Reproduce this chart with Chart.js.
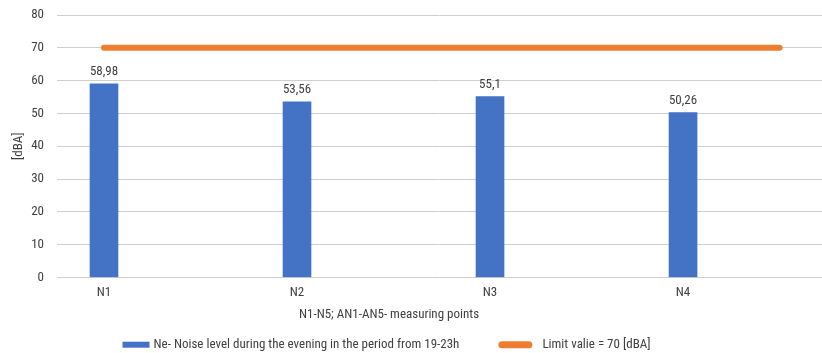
<!DOCTYPE html>
<html>
<head>
<meta charset="utf-8">
<script src="https://cdn.jsdelivr.net/npm/chart.js@4.4.1/dist/chart.umd.min.js"></script>
<style>
  html, body { margin: 0; padding: 0; background: #fff; }
</style>
</head>
<body>
<canvas id="noise-chart" width="822" height="353"></canvas>
<script>
"use strict";

// data ---------------------------------------
const CATEGORIES = ["N1", "N2", "N3", "N4"];
const NOISE_VALUES = [58.98, 53.56, 55.1, 50.26];
const LIMIT_X = [1, 4.5];
const LIMIT_VALUES = [70, 70];
const Y_TICKS = [0, 10, 20, 30, 40, 50, 60, 70, 80];

const NOISE_LABEL = "Ne- Noise level during the evening in the period from 19-23h";
const LIMIT_LABEL = "Limit valie = 70 [dBA]";
const X_TITLE = "N1-N5; AN1-AN5- measuring points";
const Y_TITLE = "[dBA]";

const FONT = "'Roboto Condensed', Carlito, sans-serif";
const FONT_SIZE = 13;
const TEXT_COLOR = "#404040";
const BLUE = "#4472c4";
const ORANGE = "#ed7d31";

Chart.defaults.font.family = FONT;
Chart.defaults.font.size = FONT_SIZE;
Chart.defaults.color = TEXT_COLOR;

// value labels, axis title and legend
const extrasPlugin = {
  id: "extras",
  afterDatasetsDraw(chart) {
    const ctx = chart.ctx;
    ctx.save();
    ctx.font = FONT_SIZE + "px " + FONT;
    ctx.fillStyle = TEXT_COLOR;
    ctx.textAlign = "center";
    ctx.textBaseline = "middle";

    chart.getDatasetMeta(0).data.forEach((bar, i) => {
      ctx.fillText(String(NOISE_VALUES[i]).replace(".", ","), bar.x, bar.y - 12);
    });

    ctx.fillText(X_TITLE, 389, 314.5);

    // legend
    const ds = chart.data.datasets;
    const w1 = ctx.measureText(ds[0].label).width;
    const w2 = ctx.measureText(ds[1].label).width;
    const total = 27 + 4 + w1 + 39 + 34 + 10 + w2;
    let x = 386.5 - total / 2;
    const y = 344.7;
    ctx.textAlign = "left";
    ctx.fillStyle = ds[0].backgroundColor;
    ctx.fillRect(x, y - 3, 27, 6);
    x += 31;
    ctx.fillStyle = TEXT_COLOR;
    ctx.fillText(ds[0].label, x, y);
    x += w1 + 39;
    ctx.strokeStyle = ds[1].borderColor;
    ctx.lineWidth = 7;
    ctx.lineCap = "round";
    ctx.beginPath();
    ctx.moveTo(x + 3.5, y);
    ctx.lineTo(x + 30.5, y);
    ctx.stroke();
    x += 44;
    ctx.fillText(ds[1].label, x, y);
    ctx.restore();
  },
};

const ctx = document.getElementById("noise-chart");

new Chart(ctx, {
  type: "bar",
  data: {
    datasets: [
      {
        type: "bar",
        label: NOISE_LABEL,
        data: NOISE_VALUES.map((v, i) => ({ x: i + 1, y: v })),
        backgroundColor: BLUE,
        barThickness: 28,
        order: 2,
      },
      {
        type: "line",
        label: LIMIT_LABEL,
        data: LIMIT_X.map((x, i) => ({ x: x, y: LIMIT_VALUES[i] })),
        borderColor: ORANGE,
        backgroundColor: ORANGE,
        borderWidth: 6,
        borderCapStyle: "round",
        pointRadius: 0,
        order: 1,
      },
    ],
  },
  options: {
    responsive: false,
    animation: false,
    layout: {
      padding: { top: 15, right: 0, bottom: 44, left: 0 },
    },
    scales: {
      x: {
        type: "linear",
        offset: false,
        min: 0.7565,
        max: 4.72,
        grid: { display: false, drawTicks: false },
        border: { display: false },
        afterBuildTicks: function (scale) {
          scale.ticks = CATEGORIES.map((c, i) => ({ value: i + 1 }));
        },
        ticks: {
          padding: 8,
          maxRotation: 0,
          callback: function (value) {
            return CATEGORIES[value - 1] || "";
          },
        },
      },
      y: {
        min: 0,
        max: 80,
        afterBuildTicks: function (scale) {
          scale.ticks = Y_TICKS.map((v) => ({ value: v }));
        },
        afterFit: function (scale) {
          scale.width = 57;
          scale.paddingTop = 0;
          scale.paddingBottom = 0;
        },
        grid: { color: "#cfcfcf", drawTicks: false },
        border: { display: false },
        ticks: { padding: 13 },
        title: {
          display: true,
          text: Y_TITLE,
          padding: { top: 11, bottom: 0 },
        },
      },
    },
    plugins: {
      legend: { display: false },
      tooltip: { enabled: false },
    },
  },
  plugins: [extrasPlugin],
});
</script>
</body>
</html>
